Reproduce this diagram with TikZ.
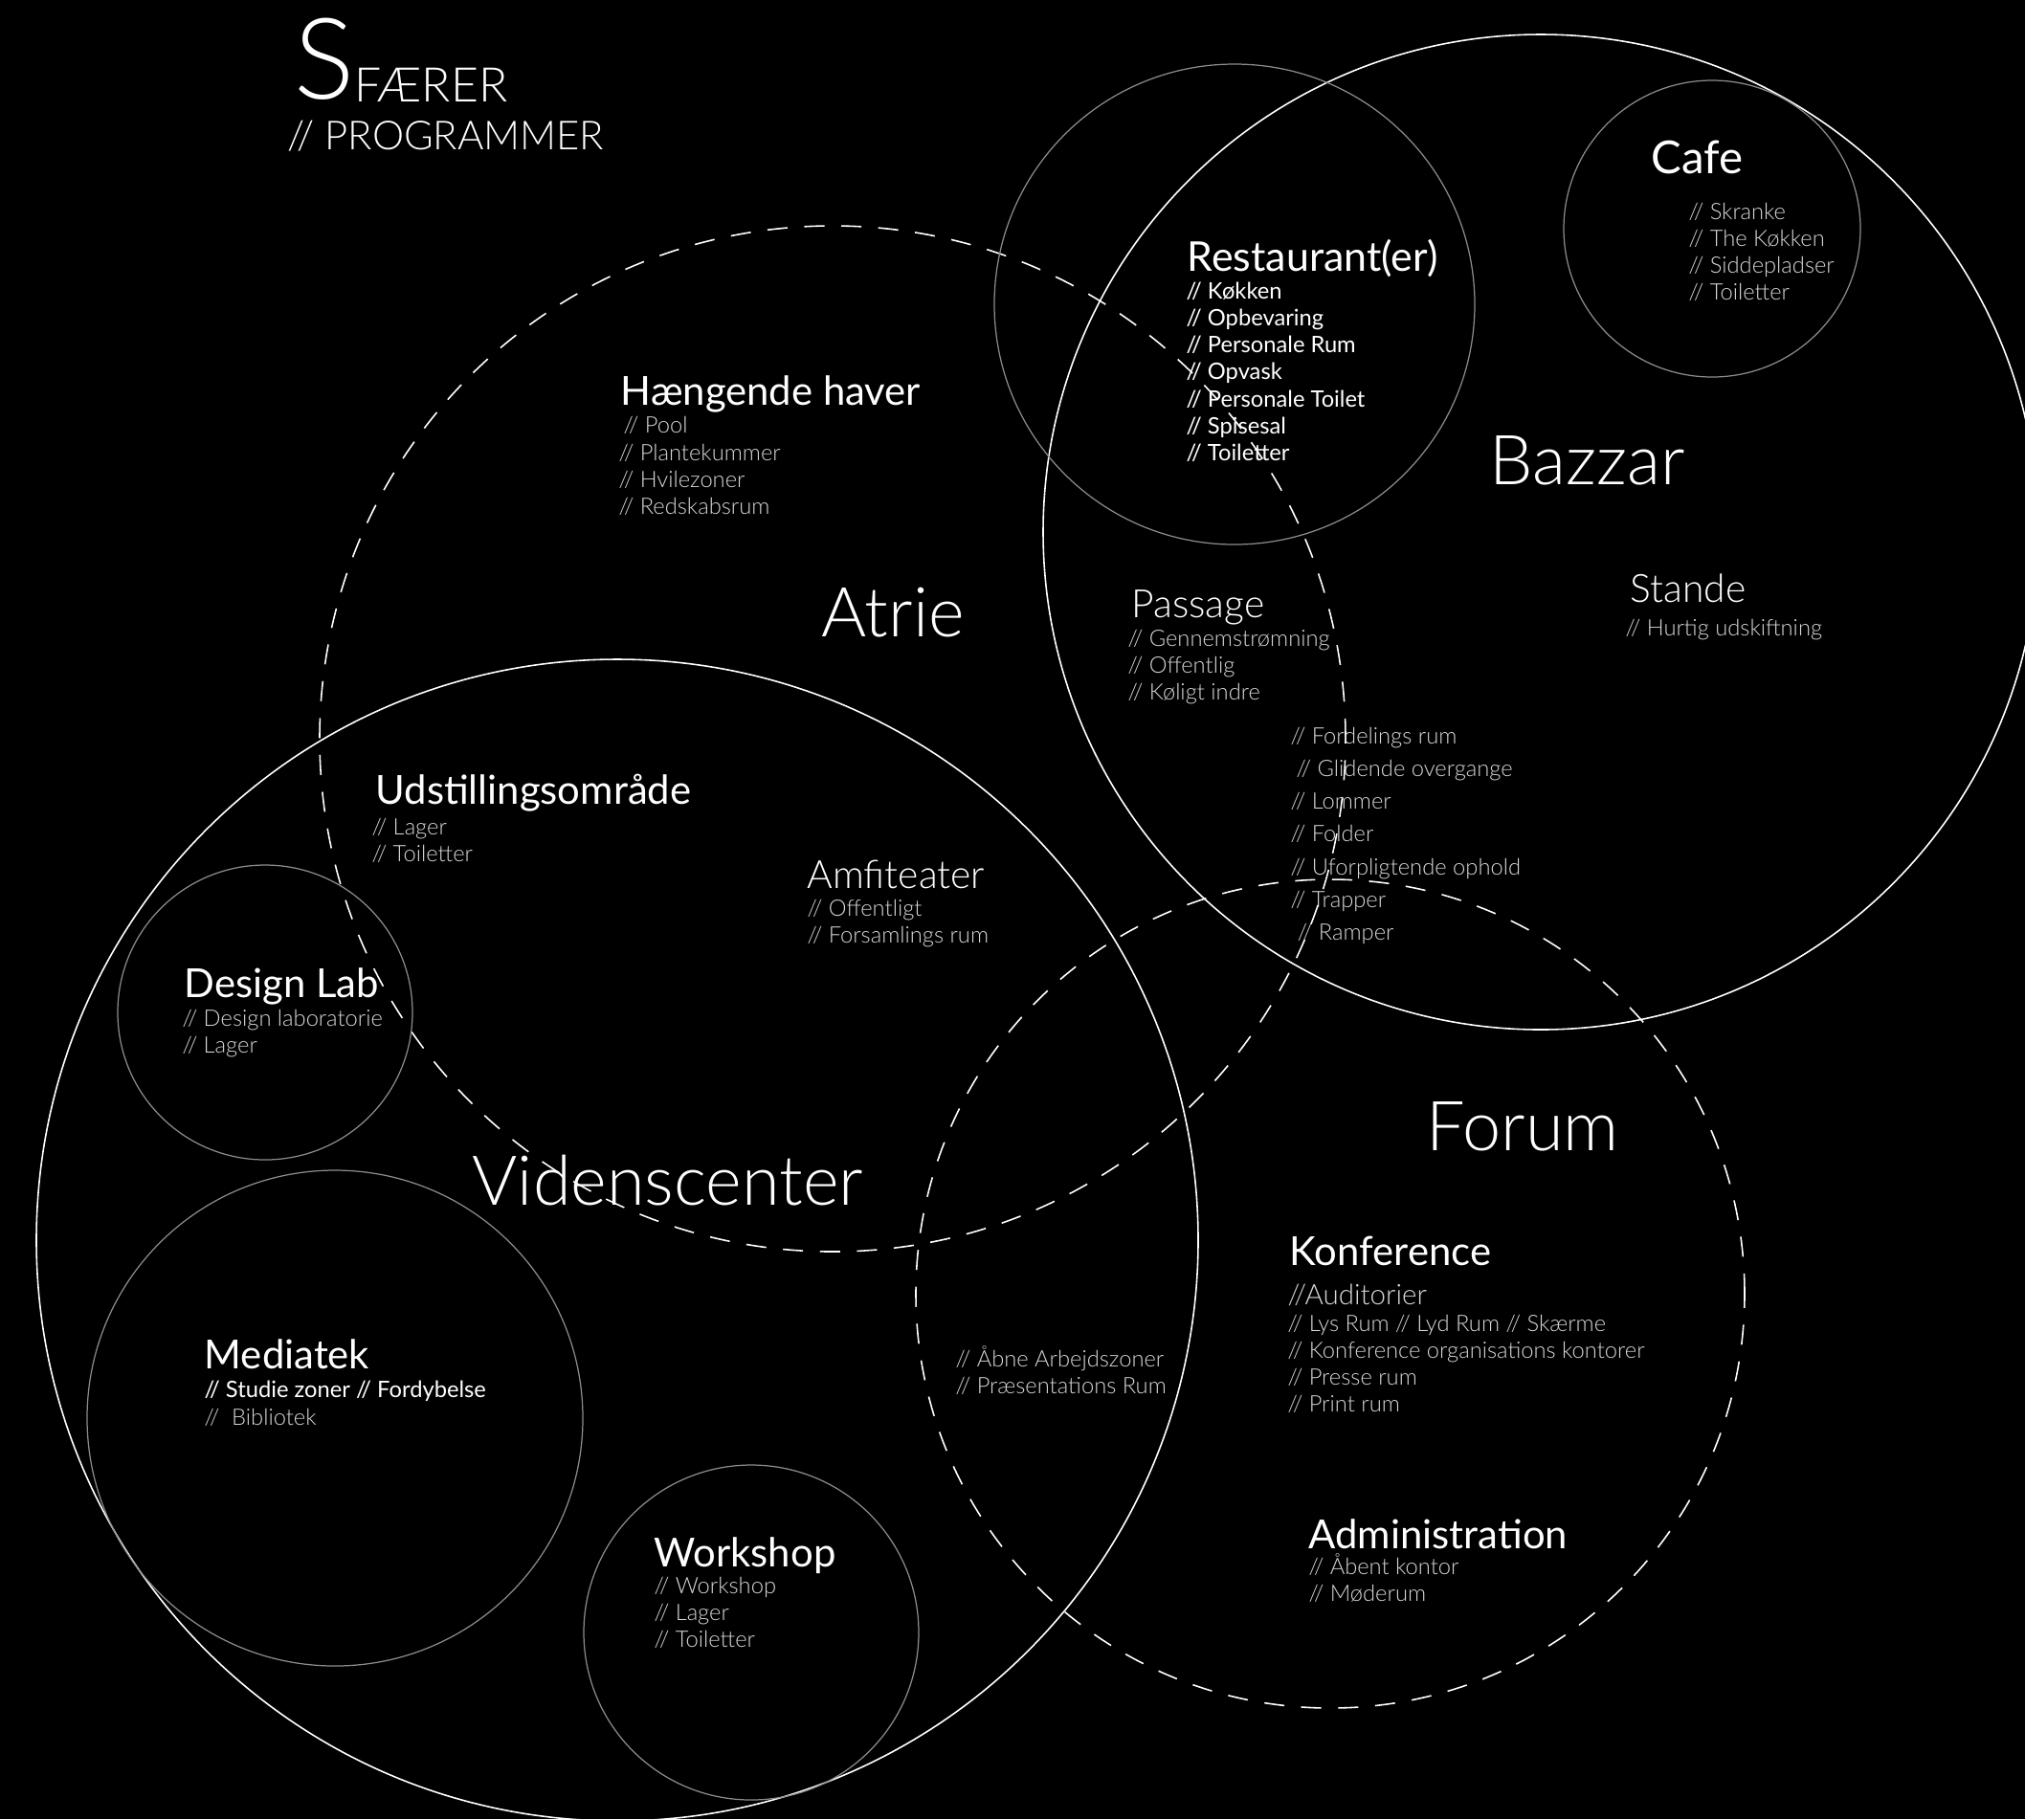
\documentclass[tikz,border=0pt]{standalone}
\usepackage{fontspec}
\setmainfont{Lato}
\newfontfamily\lightfont{Lato Light}
\definecolor{itemgray}{HTML}{D8D8D8}
\definecolor{ringgray}{HTML}{8C8C8C}
% rows whose baseline is the first row
\newcommand{\itemrows}[1]{\begin{tabular}[t]{@{}l@{}}#1\end{tabular}}
\begin{document}
\begin{tikzpicture}[
    head/.style={anchor=base west, inner sep=0, text=white, font=\fontsize{11.9}{14}\selectfont},
    lighthead/.style={anchor=base west, inner sep=0, text=white, font=\lightfont\fontsize{11.6}{14}\selectfont},
    bigname/.style={anchor=base west, inner sep=0, text=white, font=\lightfont\fontsize{20.5}{24}\selectfont},
    items/.style={anchor=base west, inner sep=0, text=itemgray, font=\lightfont\fontsize{6.75}{8.05}\selectfont},
    white items/.style={items, text=white, font=\fontsize{6.75}{8.05}\selectfont},
    sphere/.style={draw=white, line width=0.45pt},
    room/.style={draw=ringgray, line width=0.35pt},
    zone/.style={draw=white, line width=0.45pt, dash pattern=on 6pt off 5pt}
]
    \fill[black](0, 0) rectangle (21.16, -19.01);
    \useasboundingbox(0, 0) rectangle (21.16, -19.01);

    % spheres
    \draw[sphere](16.10, -5.56) circle (5.20);
    \draw[sphere](6.45, -12.96) circle (6.07);
    \draw[zone](8.70, -7.72) circle (5.36);
    \draw[zone](13.90, -13.52) circle (4.33);

    % rooms
    \draw[room](12.90, -3.18) circle (2.51);
    \draw[room](17.89, -2.39) circle (1.55);
    \draw[room](2.77, -10.58) circle (1.54);
    \draw[room](3.50, -14.82) circle (2.59);
    \draw[room](7.85, -17.06) circle (1.75);

    % title
    \node[anchor=base west, inner sep=0, text=white, font=\lightfont\fontsize{33.6}{36}\selectfont] at(3.07, -1.03)(s){S};
    \node[anchor=base west, inner sep=0, text=white, font=\lightfont\fontsize{14.2}{16}\selectfont] at(3.70, -1.06)(faerer){FÆRER};
    \node[anchor=base west, inner sep=0, text=white, font=\lightfont\fontsize{11.9}{14}\selectfont] at(3.00, -1.56)(programmer){// PROGRAMMER};

    \node[bigname] at(8.58, -6.65)(atrie){Atrie};
    \node[bigname] at(15.56, -5.06)(bazzar){Bazzar};
    \node[bigname] at(4.93, -12.59)(viden){Videnscenter};
    \node[bigname] at(14.90, -12.02)(forum){Forum};

    \node[head] at(6.48, -4.23)(haver){Hængende haver};
    \node[items] at(6.51, -4.52)(pool){// Pool};
    \node[items] at(6.46, -4.81)(haverlist){\itemrows{// Plantekummer\\// Hvilezoner\\// Redskabsrum}};

    \node[head, font=\fontsize{12.2}{14}\selectfont] at(12.40, -2.83)(restaurant){Restaurant(er)};
    \node[white items] at(12.39, -3.12)(restaurantlist){\itemrows{// Køkken\\// Opbevaring\\// Personale Rum\\// Opvask\\// Personale Toilet\\// Spisesal\\// Toiletter}};

    \node[head, font=\fontsize{13.5}{16}\selectfont] at(17.25, -1.81)(cafe){Cafe};
    \node[items] at(17.64, -2.29)(cafelist){\itemrows{// Skranke\\// The Køkken\\// Siddepladser\\// Toiletter}};

    \node[lighthead] at(17.03, -6.29)(stande){Stande};
    \node[items] at(16.98, -6.64)(standelist){// Hurtig udskiftning};

    \node[lighthead] at(11.82, -6.45)(passage){Passage};
    \node[items] at(11.78, -6.75)(passagelist){\itemrows{// Gennemstrømning\\// Offentlig\\// Køligt indre}};

    \node[items, font=\lightfont\fontsize{6.75}{9.75}\selectfont] at(13.48, -7.77)(fordeling){\itemrows{// Fordelings rum\\\hspace{0.5ex}// Glidende overgange\\// Lommer\\// Folder\\// Uforpligtende ophold\\// Trapper\\\hspace{0.6ex}// Ramper}};

    \node[head] at(3.92, -8.40)(udstilling){Udstillingsområde};
    \node[items] at(3.88, -8.72)(udstillinglist){\itemrows{// Lager\\// Toiletter}};

    \node[lighthead] at(8.43, -9.28)(amfi){Amfiteater};
    \node[items] at(8.43, -9.57)(amfilist){\itemrows{// Offentligt\\// Forsamlings rum}};

    \node[head] at(1.92, -10.42)(designlab){Design Lab};
    \node[items] at(1.90, -10.72)(designlablist){\itemrows{// Design laboratorie\\// Lager}};

    \node[head] at(2.13, -14.30)(mediatek){Mediatek};
    \node[white items] at(2.13, -14.60)(mediateklist){// Studie zoner // Fordybelse};
    \node[items] at(2.13, -14.89)(bibliotek){//\ \ Bibliotek};

    \node[head] at(6.83, -16.37)(workshop){Workshop};
    \node[items] at(6.83, -16.65)(workshoplist){\itemrows{// Workshop\\// Lager\\// Toiletter}};

    \node[items] at(9.98, -14.28)(arbejde){\itemrows{// Åbne Arbejdszoner\\// Præsentations Rum}};

    \node[head] at(13.47, -13.22)(konference){Konference};
    \node[items, font=\lightfont\fontsize{8.4}{10}\selectfont] at(13.45, -13.63)(auditorier){//Auditorier};
    \node[items] at(13.45, -13.91)(konferencelist){\itemrows{// Lys Rum // Lyd Rum // Skærme\\// Konference organisations kontorer\\// Presse rum\\// Print rum}};

    \node[head] at(13.67, -16.18)(admin){Administration};
    \node[items] at(13.67, -16.45)(adminlist){\itemrows{// Åbent kontor\\// Møderum}};
\end{tikzpicture}
\end{document}
